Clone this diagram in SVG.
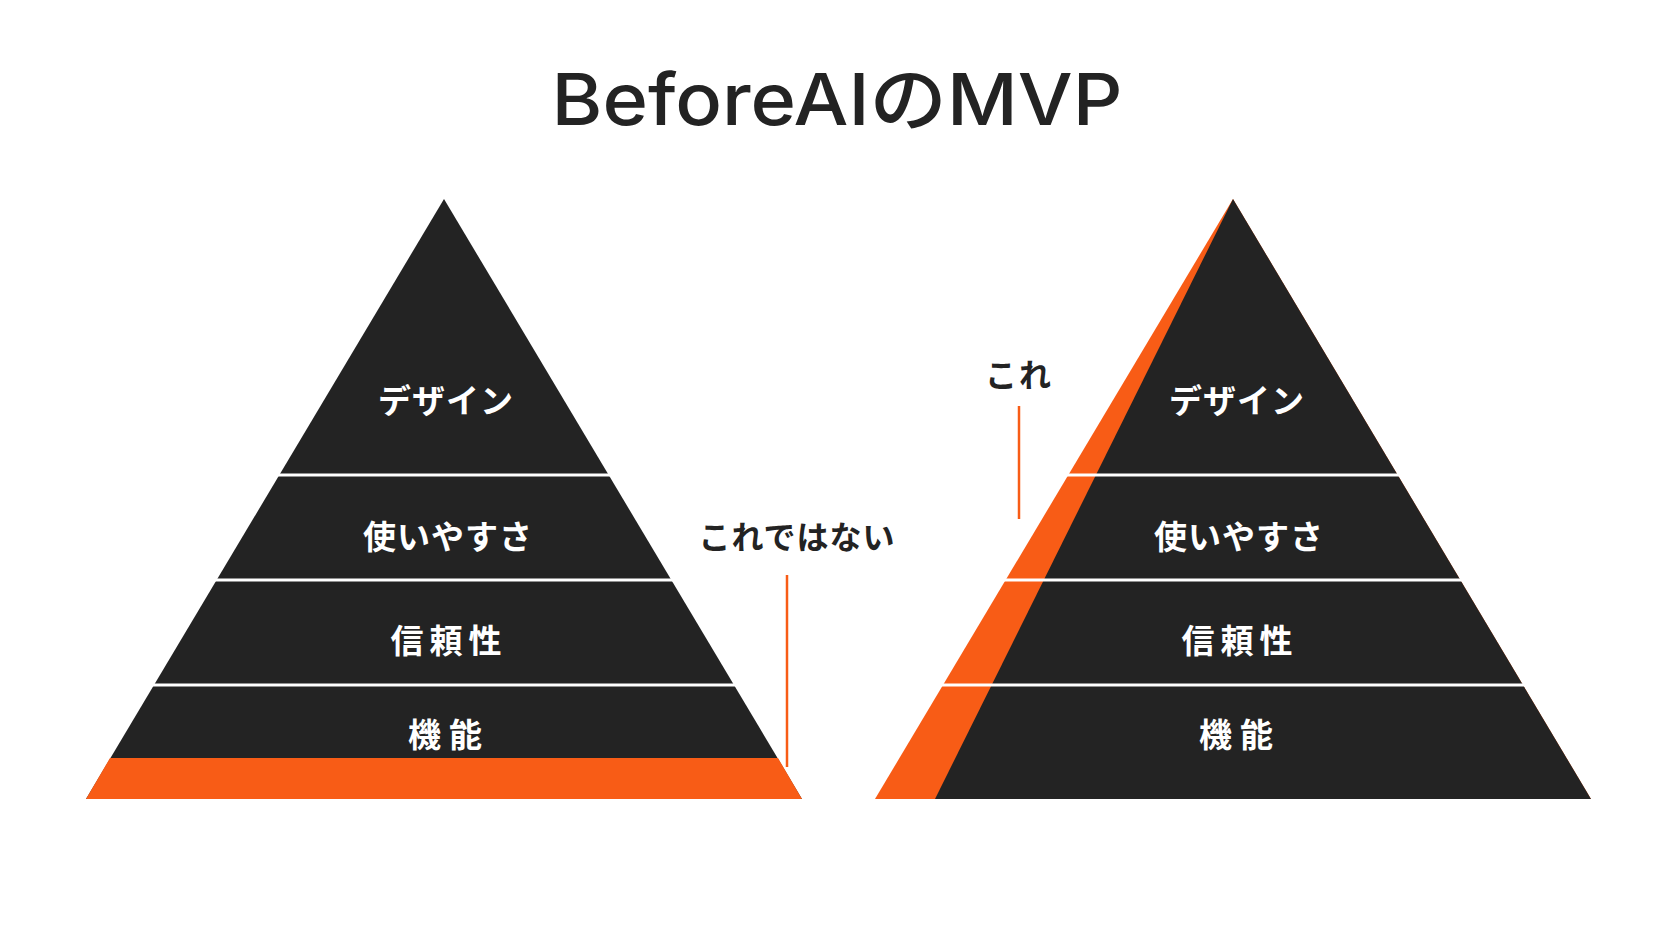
<svg xmlns="http://www.w3.org/2000/svg" width="1672" height="941" viewBox="0 0 1672 941">
<style>
.dark{fill:#232323}
.orange{fill:#F85C16}
.sep{stroke:#FFFFFF;stroke-width:3}
.lbl{font-family:"Noto Sans CJK JP","Noto Sans",sans-serif;font-weight:700;font-size:33px;fill:#FFFFFF;text-anchor:middle}
.ann{font-family:"Noto Sans CJK JP","Noto Sans",sans-serif;font-weight:700;font-size:32px;fill:#232323;text-anchor:middle}
.lead{stroke:#F85C16;stroke-width:2.5}
</style>
<rect width="1672" height="941" fill="#FFFFFF"/>
<g id="title">
<text x="837" y="125" font-family="Inter, Noto Sans CJK JP, sans-serif" font-weight="500" font-size="72" fill="#232323" text-anchor="middle" textLength="571" lengthAdjust="spacingAndGlyphs">BeforeAIのMVP</text>
</g>
<g id="pyramid-left">
<polygon class="dark" points="444,199 802,799 86,799"/>
<polygon class="orange" points="110,758 778,758 802,799 86,799"/>
<line class="sep" x1="270" y1="475" x2="618" y2="475"/>
<line class="sep" x1="206" y1="580" x2="682" y2="580"/>
<line class="sep" x1="144" y1="685" x2="744" y2="685"/>
<text class="lbl" x="446" y="413" letter-spacing="1">デザイン</text>
<text class="lbl" x="448" y="549" letter-spacing="1">使いやすさ</text>
<text class="lbl" x="449" y="653" letter-spacing="6">信頼性</text>
<text class="lbl" x="449" y="747" letter-spacing="8">機能</text>
</g>
<g id="pyramid-right">
<polygon class="orange" points="1233,199 1591,799 875,799"/>
<polygon class="dark" points="1233,199 1591,799 935,799"/>
<line class="sep" x1="1060" y1="475" x2="1406" y2="475"/>
<line class="sep" x1="996" y1="580" x2="1470" y2="580"/>
<line class="sep" x1="934" y1="685" x2="1532" y2="685"/>
<text class="lbl" x="1237" y="413" letter-spacing="1">デザイン</text>
<text class="lbl" x="1239" y="549" letter-spacing="1">使いやすさ</text>
<text class="lbl" x="1240" y="653" letter-spacing="6">信頼性</text>
<text class="lbl" x="1240" y="747" letter-spacing="8">機能</text>
</g>
<g id="annotation-not-this">
<text class="ann" x="797" y="549" letter-spacing="1">これではない</text>
</g>
<g id="annotation-this">
<text class="ann" x="1019" y="387" letter-spacing="2">これ</text>
</g>
<g id="connectors">
<line class="lead" x1="787" y1="575" x2="787" y2="767"/>
<line class="lead" x1="1019" y1="406" x2="1019" y2="519"/>
</g>
</svg>
